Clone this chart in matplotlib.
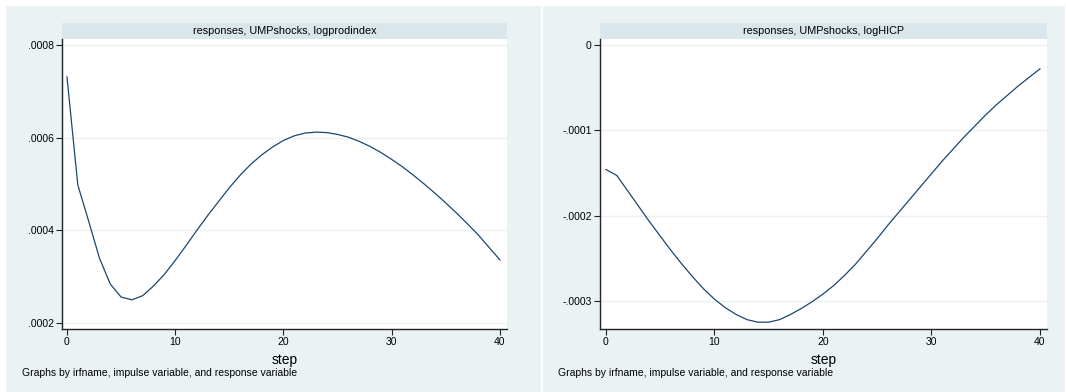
import matplotlib
matplotlib.use("Agg")
import matplotlib.pyplot as plt
from matplotlib.patches import Rectangle

plt.rcParams['font.family'] = ['Liberation Sans', 'DejaVu Sans']

steps = list(range(41))

# impulse responses to UMPshocks
prod_resp = [0.000731, 0.000498, 0.000420, 0.000340, 0.000284, 0.000256, 0.000250,
             0.000259, 0.000280, 0.000305, 0.000335, 0.000367, 0.000400, 0.000432,
             0.000462, 0.000492, 0.000519, 0.000543, 0.000563, 0.000580, 0.000594,
             0.000604, 0.000610, 0.000612, 0.000611, 0.000607, 0.000601, 0.000592,
             0.000581, 0.000568, 0.000553, 0.000537, 0.000519, 0.000500, 0.000480,
             0.000459, 0.000437, 0.000414, 0.000390, 0.000363, 0.000336]
hicp_resp = [-0.000146, -0.000153, -0.000171, -0.000189, -0.000207, -0.000224, -0.000241,
             -0.000257, -0.000272, -0.000286, -0.000298, -0.000308, -0.000316, -0.000322,
             -0.000325, -0.000325, -0.000322, -0.000316, -0.000309, -0.000301, -0.000292,
             -0.000282, -0.000270, -0.000257, -0.000242, -0.000227, -0.000211, -0.000196,
             -0.000181, -0.000166, -0.000151, -0.000136, -0.000122, -0.000108, -0.000095,
             -0.000082, -0.000070, -0.000059, -0.000048, -0.000038, -0.000028]

panel_titles = ["responses, UMPshocks, logprodindex", "responses, UMPshocks, logHICP"]
prod_ticks = [0.0002, 0.0004, 0.0006, 0.0008]
prod_ticklabels = [".0002", ".0004", ".0006", ".0008"]
hicp_ticks = [-0.0003, -0.0002, -0.0001, 0.0]
hicp_ticklabels = ["-.0003", "-.0002", "-.0001", "0"]
x_ticks = [0, 10, 20, 30, 40]
note = "Graphs by irfname, impulse variable, and response variable"

W, H = 1066, 392
BG = "#EAF2F3"
STRIP = "#D9E6EB"
NAVY = "#1A476F"

fig = plt.figure(figsize=(W / 100, H / 100), dpi=100)
fig.patch.set_facecolor("white")


def px(x0, y0, x1, y1):
    # pixel box (top-left origin) -> figure fraction rect
    return [x0 / W, 1 - y1 / H, (x1 - x0) / W, (y1 - y0) / H]


def panel(bg_box, ax_box, y, ticks, ticklabels, ylim, xlim, title, note_x):
    r = px(*bg_box)
    fig.patches.append(Rectangle((r[0], r[1]), r[2], r[3], transform=fig.transFigure,
                                 facecolor=BG, edgecolor="none", zorder=-10))
    ax = fig.add_axes(px(*ax_box))
    ax.set_zorder(1)
    ax.set_facecolor("white")
    ax.plot(steps, y, color=NAVY, lw=0.9, zorder=3)
    ax.set_xlim(*xlim)
    ax.set_ylim(*ylim)
    ax.set_yticks(ticks)
    ax.set_yticklabels(ticklabels)
    ax.set_xticks(x_ticks)
    ax.set_xticklabels([str(t) for t in x_ticks])
    ax.grid(axis="y", color=BG, lw=1.0)
    ax.grid(axis="x", visible=False)
    for s in ["top", "right"]:
        ax.spines[s].set_visible(False)
    for s in ["left", "bottom"]:
        ax.spines[s].set_color("#222222")
        ax.spines[s].set_linewidth(1.0)
    ax.tick_params(axis="both", length=4, width=0.8, color="#222222",
                   labelsize=7.5, pad=2)
    ax.set_xlabel("step", fontsize=10, labelpad=4)

    # strip title above the plot region
    sx0, sx1 = ax_box[0], ax_box[2]
    sr = px(sx0, 23, sx1, 39)
    fig.patches.append(Rectangle((sr[0], sr[1]), sr[2], sr[3], transform=fig.transFigure,
                                 facecolor=STRIP, edgecolor="none", zorder=-5))
    fig.text(sr[0] + sr[2] / 2, sr[1] + sr[3] / 2, title, ha="center", va="center",
             fontsize=7.8)
    fig.text(note_x / W, 1 - 373 / H, note, ha="left", va="center", fontsize=7.5)
    return ax


panel((6, 6, 541, 392), (62, 39, 507, 329), prod_resp, prod_ticks, prod_ticklabels,
      (0.000187, 0.000813), (-0.46, 40.65), panel_titles[0], 22)
panel((543, 6, 1065, 392), (600, 39, 1047, 329), hicp_resp, hicp_ticks, hicp_ticklabels,
      (-0.000333, 0.000007), (-0.55, 40.65), panel_titles[1], 558)

fig.savefig("out.png", dpi=100, facecolor=fig.get_facecolor())
